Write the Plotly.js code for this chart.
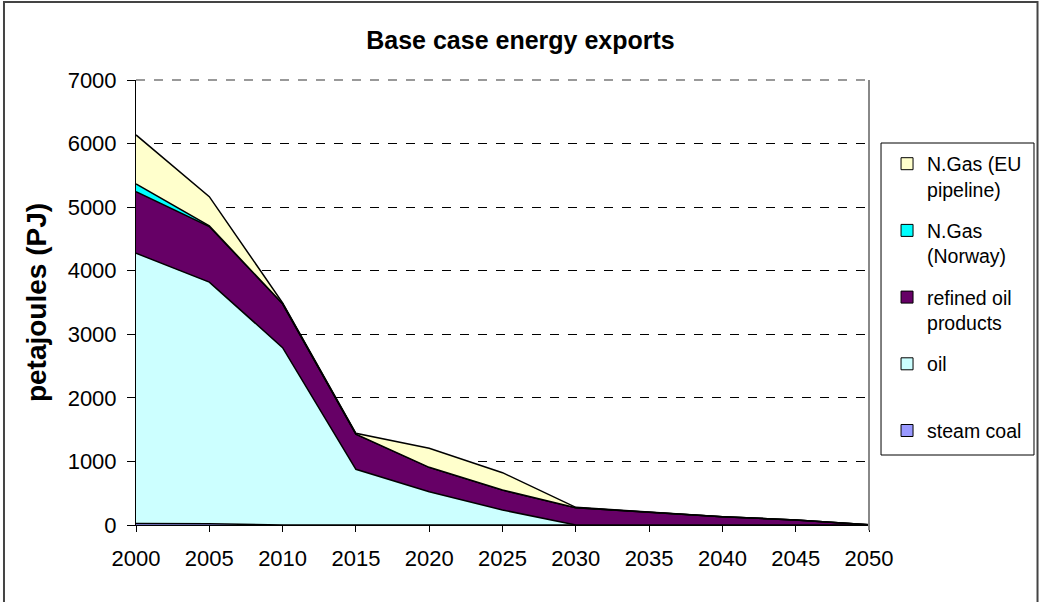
<!DOCTYPE html>
<html>
<head>
<meta charset="utf-8">
<script src="https://cdn.plot.ly/plotly-3.0.1.min.js"></script>
<style>
html,body{margin:0;padding:0;background:#fff;}
#chart{width:1041px;height:602px;}
</style>
</head>
<body>
<div id="chart"></div>
<script>
// ---- data ----
var years = [2000, 2005, 2010, 2015, 2020, 2025, 2030, 2035, 2040, 2045, 2050];
var steamCoal = [25, 20, 0, 0, 0, 0, 0, 0, 0, 0, 0];
var oil = [4250, 3800, 2790, 876, 524, 236, 0, 0, 0, 0, 0];
var refinedOil = [969, 875, 690, 554, 383, 314, 270, 202, 131, 79, 5];
var gasNorway = [121, 10, 0, 0, 0, 0, 0, 0, 0, 0, 0];
var gasEU = [771, 460, 15, 12, 299, 273, 8, 0, 0, 0, 0];
var seriesNames = ["steam coal", "oil<br>\u00a0", "refined oil<br>products", "N.Gas<br>(Norway)", "N.Gas (EU<br>pipeline)"];
var seriesColors = ["#9999FF", "#CCFFFF", "#660066", "#00FFFF", "#FFFFCC"];
var yTicks = [0, 1000, 2000, 3000, 4000, 5000, 6000, 7000];

var seriesValues = [steamCoal, oil, refinedOil, gasNorway, gasEU];
var traces = [];
for (var i = 0; i < seriesValues.length; i++) {
  traces.push({
    type: "scatter", mode: "lines", x: years, y: seriesValues[i],
    stackgroup: "one", fillcolor: seriesColors[i],
    line: {color: "#000000", width: 1.5},
    name: seriesNames[i].replace("<br>", " "), showlegend: false, hoverinfo: "x+y+name"
  });
}
// legend entries (square swatches), top entry first
for (var j = seriesValues.length - 1; j >= 0; j--) {
  traces.push({
    type: "scatter", mode: "markers", x: [null], y: [null],
    name: seriesNames[j], legendgroup: "g" + j, showlegend: true,
    marker: {symbol: "square", size: 12, color: seriesColors[j], line: {color: "#000000", width: 1}}
  });
}

var font = "Arial, 'Liberation Sans', sans-serif";
var layout = {
  width: 1041, height: 602,
  margin: {l: 136, r: 172, t: 80, b: 77},
  paper_bgcolor: "#ffffff", plot_bgcolor: "#ffffff",
  font: {family: font, size: 22, color: "#000000"},
  title: {text: "<b>Base case energy exports</b>", x: 0.5, xanchor: "center", y: 0.933, yanchor: "middle",
          font: {family: font, size: 25, color: "#000000"}},
  xaxis: {
    range: [2000, 2050], tickvals: years, ticktext: years.map(String),
    showgrid: false, zeroline: false, showline: true, linecolor: "#000000", linewidth: 1,
    ticks: "outside", ticklen: 6, tickcolor: "#000000", tickfont: {size: 22},
    ticklabelstandoff: 8
  },
  yaxis: {
    range: [0, 7000], tickvals: yTicks, showgrid: true, gridcolor: "#000000", griddash: "dash", gridwidth: 1,
    zeroline: false, showline: true, linecolor: "#000000", linewidth: 1,
    ticks: "outside", ticklen: 8, tickcolor: "#000000", tickfont: {size: 22},
    ticklabelstandoff: 6,
    title: {text: "<b>petajoules (PJ)</b>", font: {size: 28}, standoff: 12}
  },
  showlegend: true,
  legend: {
    x: 1.0246, xanchor: "left", y: 0.855, yanchor: "top",
    traceorder: "grouped", tracegroupgap: 13, valign: "top",
    bgcolor: "rgba(0,0,0,0)", borderwidth: 0, font: {family: font, size: 19.5, color: "#000000"}
  },
  shapes: [
    {type: "line", xref: "paper", yref: "paper", x0: 1, x1: 1, y0: -0.012, y1: 1, line: {color: "#888888", width: 2}},
    {type: "line", xref: "paper", yref: "paper", x0: 0, x1: 1, y0: 1, y1: 1, line: {color: "#999999", width: 2, dash: "dash"}},
    {type: "rect", xref: "paper", yref: "paper", x0: 1.0164, x1: 1.2251, y0: 0.1573, y1: 0.8584,
     line: {color: "#000000", width: 1}, fillcolor: "rgba(0,0,0,0)"},
    {type: "rect", xref: "paper", yref: "paper", x0: -0.1801, x1: 1.2299, y0: -0.2, y1: 1.1753,
     line: {color: "#444444", width: 2}, fillcolor: "rgba(0,0,0,0)"}
  ]
};

Plotly.newPlot("chart", traces, layout, {displayModeBar: false, staticPlot: true});
</script>
</body>
</html>
